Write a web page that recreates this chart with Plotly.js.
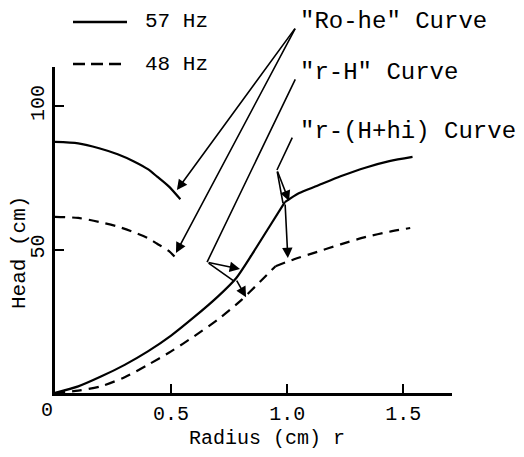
<!DOCTYPE html>
<html>
<head>
<meta charset="utf-8">
<script src="https://cdn.plot.ly/plotly-3.0.1.min.js"></script>
<style>
  html, body { margin: 0; padding: 0; background: #fff; }
  #chart { width: 524px; height: 457px; }
</style>
</head>
<body>
<div id="chart"></div>
<script>
// ---- Data ----
// "Ro-he" curves (r from 0 to ~0.53 cm)
const roheX57 = [0.00, 0.10, 0.19, 0.27, 0.34, 0.40, 0.44, 0.49, 0.54];
const roheY57 = [87.5, 87.0, 85.3, 83.2, 80.7, 78.0, 75.4, 72.0, 67.5];
const roheX48 = [0.00, 0.10, 0.19, 0.27, 0.34, 0.40, 0.44, 0.49, 0.53];
const roheY48 = [61.4, 61.0, 59.6, 58.0, 56.0, 54.0, 52.0, 49.5, 46.2];

// "r-H" curves rising from the origin up to the kink
const riseX57 = [0.00, 0.10, 0.20, 0.30, 0.40, 0.50, 0.60, 0.70, 0.78, 0.85, 0.92, 0.99];
const riseY57 = [0.0, 2.3, 5.8, 9.8, 14.5, 20.0, 26.5, 33.5, 40.0, 48.5, 57.5, 66.5];
const riseX48 = [0.00, 0.10, 0.20, 0.30, 0.40, 0.50, 0.60, 0.70, 0.80, 0.88, 0.95];
const riseY48 = [0.0, 0.8, 2.4, 5.5, 9.8, 14.5, 19.8, 25.5, 32.2, 38.5, 44.2];

// "r-(H+hi)" curves beyond the kink
const upperX57 = [0.99, 1.05, 1.13, 1.23, 1.34, 1.44, 1.54];
const upperY57 = [66.5, 69.6, 72.2, 75.5, 78.6, 80.8, 82.3];
const upperX48 = [0.95, 1.03, 1.13, 1.23, 1.34, 1.44, 1.53];
const upperY48 = [44.2, 46.6, 49.2, 51.8, 54.4, 56.2, 57.5];

// Axis ticks
const xTickVals = [0, 0.5, 1.0, 1.5];
const xTickText = ["0", "0.5", "1.0", "1.5"];
const yTickVals = [50, 100];
const yTickText = ["50", "100"];

// Legend entries / callout labels / axis titles
const seriesNames = ["57 Hz", "48 Hz"];
const calloutLabels = ['"Ro-he" Curve', '"r-H" Curve', '"r-(H+hi) Curve'];
const xTitle = "Radius (cm) r";
const yTitle = "Head (cm)";

// ---- Styling ----
const FONT = "Liberation Mono, Courier New, monospace";
const INK = "#000";
const solid = { color: INK, width: 2.2, shape: "spline", smoothing: 0.7 };
const dashed = { color: INK, width: 2.2, dash: "10px,7px", shape: "spline", smoothing: 0.7 };

function tr(x, y, line, name) {
  return { x: x, y: y, mode: "lines", line: line, name: name, showlegend: false, hoverinfo: "skip" };
}
const traces = [
  tr(roheX57, roheY57, solid, seriesNames[0]),
  tr(roheX48, roheY48, dashed, seriesNames[1]),
  tr(riseX57, riseY57, solid, seriesNames[0]),
  tr(riseX48, riseY48, dashed, seriesNames[1]),
  tr(upperX57, upperY57, solid, seriesNames[0]),
  tr(upperX48, upperY48, dashed, seriesNames[1])
];

// px -> paper helpers for free text placement
const L = 55, T = 67, W = 397, H = 326;
const px = v => (v - L) / W;
const py = v => (T + H - v) / H;

function arrow(tailX, tailY, headX, headY, head) {
  return {
    x: headX, y: headY, ax: tailX, ay: tailY,
    xref: "x", yref: "y", axref: "x", ayref: "y",
    text: "", showarrow: true,
    arrowhead: head ? 2 : 0, arrowsize: 1.3, arrowwidth: 1.6, arrowcolor: INK,
    standoff: 0, startstandoff: 0
  };
}
function label(text, x, y, size, extra) {
  return Object.assign({ xref: "paper", yref: "paper", x: px(x), y: py(y), xanchor: "left", yanchor: "middle",
    text: text, showarrow: false, font: { family: FONT, size: size, color: INK } }, extra || {});
}

const annotations = [
  label(calloutLabels[0], 298, 22, 24),
  label(calloutLabels[1], 298, 72, 24),
  label(calloutLabels[2], 298, 131, 24),
  label(seriesNames[0], 143, 22, 21),
  label(seriesNames[1], 143, 64, 21),
  label(xTitle, 267, 438, 20, { xanchor: "center" }),
  label(yTitle, 19, 253, 21, { xanchor: "center", textangle: -90 }),
  label(xTickText[0], 47, 410, 20, { xanchor: "center" }),

  // "Ro-he" arrows
  arrow(1.038, 127.5, 0.525, 70.7, true),
  arrow(1.038, 127.5, 0.521, 48.8, true),
  // "r-H" leader and arrows
  arrow(1.038, 109.8, 0.655, 45.6, false),
  arrow(0.655, 45.6, 0.797, 43.2, true),
  arrow(0.655, 45.6, 0.771, 39.0, false),
  arrow(0.779, 39.7, 0.823, 33.4, true),
  // "r-(H+hi)" leader and arrows
  arrow(1.025, 89.5, 0.956, 77.7, false),
  arrow(0.956, 77.7, 1.008, 66.9, true),
  arrow(0.956, 77.7, 0.982, 66.2, false),
  arrow(0.991, 66.2, 1.003, 47.0, true)
];

// Legend samples
const shapes = [
  { type: "line", xref: "paper", yref: "paper", x0: px(73), x1: px(127), y0: py(22), y1: py(22),
    line: { color: INK, width: 2.5 } },
  { type: "line", xref: "paper", yref: "paper", x0: px(73), x1: px(127), y0: py(64), y1: py(64),
    line: { color: INK, width: 2.5, dash: "12px,6px" } }
];

const layout = {
  width: 524, height: 457,
  margin: { l: L, r: 524 - L - W, t: T, b: 457 - T - H, pad: 0 },
  paper_bgcolor: "#fff", plot_bgcolor: "#fff",
  showlegend: false,
  font: { family: FONT, size: 20, color: INK },
  xaxis: {
    range: [0, 1.71], showgrid: false, zeroline: false,
    showline: true, linecolor: INK, linewidth: 3,
    ticks: "inside", ticklen: 9, tickwidth: 2, tickcolor: INK,
    tickvals: xTickVals.slice(1), ticktext: xTickText.slice(1),
    tickfont: { family: FONT, size: 20, color: INK }
  },
  yaxis: {
    range: [0, 113.6], showgrid: false, zeroline: false,
    showline: true, linecolor: INK, linewidth: 3,
    ticks: "inside", ticklen: 9, tickwidth: 2, tickcolor: INK,
    tickvals: yTickVals, ticktext: yTickText, tickangle: -90,
    tickfont: { family: FONT, size: 20, color: INK }
  },
  annotations: annotations,
  shapes: shapes
};

Plotly.newPlot("chart", traces, layout, { staticPlot: true, displayModeBar: false });
</script>
</body>
</html>
